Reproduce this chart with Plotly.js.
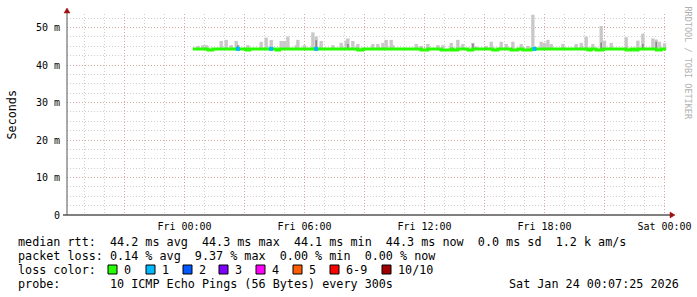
<!DOCTYPE html>
<html><head><meta charset="utf-8">
<script src="https://cdn.plot.ly/plotly-3.0.1.min.js"></script>
<style>html,body{margin:0;padding:0;background:#fff}#chart{width:697px;height:297px}</style>
</head><body><div id="chart"></div>
<script>
// ---- data (Fri = 2026-01-23) ----
const smokeTimes = ['2026-01-23 00:40','2026-01-23 00:55','2026-01-23 01:05','2026-01-23 01:50','2026-01-23 02:05','2026-01-23 02:20','2026-01-23 02:35','2026-01-23 02:40','2026-01-23 03:10','2026-01-23 03:50','2026-01-23 04:05','2026-01-23 04:20','2026-01-23 04:50','2026-01-23 05:00','2026-01-23 05:10','2026-01-23 05:35','2026-01-23 05:40','2026-01-23 06:00','2026-01-23 06:25','2026-01-23 06:35','2026-01-23 06:50','2026-01-23 07:25','2026-01-23 07:50','2026-01-23 08:05','2026-01-23 08:10','2026-01-23 08:25','2026-01-23 08:40','2026-01-23 09:25','2026-01-23 09:40','2026-01-23 09:55','2026-01-23 10:05','2026-01-23 10:20','2026-01-23 10:25','2026-01-23 11:35','2026-01-23 11:50','2026-01-23 12:10','2026-01-23 12:40','2026-01-23 12:55','2026-01-23 13:20','2026-01-23 13:40','2026-01-23 13:55','2026-01-23 14:25','2026-01-23 14:35','2026-01-23 15:05','2026-01-23 15:20','2026-01-23 15:50','2026-01-23 16:05','2026-01-23 16:25','2026-01-23 16:50','2026-01-23 17:10','2026-01-23 17:25','2026-01-23 17:50','2026-01-23 18:00','2026-01-23 18:10','2026-01-23 18:20','2026-01-23 18:55','2026-01-23 19:35','2026-01-23 19:50','2026-01-23 20:05','2026-01-23 20:25','2026-01-23 20:50','2026-01-23 21:00','2026-01-23 21:20','2026-01-23 22:05','2026-01-23 22:40','2026-01-23 22:55','2026-01-23 23:25','2026-01-23 23:35','2026-01-23 23:45','2026-01-24 00:00'];
const smokeTop = [45.1,45.3,45.3,46.4,46.7,45.3,46.4,45.3,45.3,46.2,47.3,46.7,46.4,46.4,47.6,45.3,46.7,45.3,48.7,47.6,46.4,45.3,45.9,46.5,47.1,46.4,45.6,45.6,45.6,45.9,46.7,46.7,45.3,45.6,45.1,45.6,45.3,45.3,45.9,46.7,45.6,45.9,44.9,45.1,46.2,46.2,45.6,46.2,45.6,45.1,53.4,46.2,45.9,46.7,45.6,45.6,45.6,45.9,47.6,45.6,50.4,46.5,45.9,47.4,46.5,48.4,47.1,46.8,46.2,45.8];
const smokeBase = 44.2;
const darkTimes = ['2026-01-23 02:40','2026-01-23 06:35','2026-01-23 08:10','2026-01-23 14:25','2026-01-23 20:50','2026-01-23 22:55','2026-01-23 23:35'];
const darkTop = [45.3,46.6,45.6,45.7,46.0,45.6,46.2];

const medianTimes = ['2026-01-23 00:25','2026-01-23 01:10','2026-01-23 01:25','2026-01-23 03:05','2026-01-23 03:15','2026-01-23 04:35','2026-01-23 04:45','2026-01-23 08:40','2026-01-23 08:55','2026-01-23 11:50','2026-01-23 12:10','2026-01-23 12:50','2026-01-23 13:20','2026-01-23 13:25','2026-01-23 13:40','2026-01-23 14:10','2026-01-23 14:25','2026-01-23 15:25','2026-01-23 15:40','2026-01-23 16:20','2026-01-23 16:40','2026-01-23 16:55','2026-01-23 17:20','2026-01-23 20:10','2026-01-23 20:20','2026-01-23 20:35','2026-01-23 20:55','2026-01-23 22:05','2026-01-23 22:20','2026-01-23 22:30','2026-01-23 22:40','2026-01-23 23:35','2026-01-23 23:50','2026-01-24 00:05'];
const medianVals = [44.3,44.0,44.3,44.0,44.3,44.0,44.3,44.0,44.3,44.0,44.3,44.0,44.3,44.0,44.3,44.0,44.3,44.0,44.3,44.0,44.3,44.0,44.3,44.0,44.3,44.0,44.3,44.0,44.3,44.0,44.3,44.0,44.3,44.3];

const lossTimes = ['2026-01-23 02:40','2026-01-23 04:20','2026-01-23 06:35','2026-01-23 17:30'];
const lossMedian = [44.3,44.3,44.3,44.3];

const xTickVals = ['2026-01-22 21:00','2026-01-23 00:00','2026-01-23 03:00','2026-01-23 06:00','2026-01-23 09:00','2026-01-23 12:00','2026-01-23 15:00','2026-01-23 18:00','2026-01-23 21:00','2026-01-24 00:00'];
const xTickText = ['','Fri 00:00','','Fri 06:00','','Fri 12:00','','Fri 18:00','','Sat 00:00'];
const yTickVals = [0,10,20,30,40,50];
const yTickText = ['0','10 m','20 m','30 m','40 m','50 m'];

const lossLabels = ['0','1','2','3','4','5','6-9','10/10'];
const lossColors = ['#26ff00','#00b8ff','#0059ff','#7e00ff','#ff00ff','#ff5e00','#ff0000','#a10000'];

const legendLines = [
  'median rtt:  44.2 ms avg  44.3 ms max  44.1 ms min  44.3 ms now  0.0 ms sd  1.2 k am/s',
  'packet loss: 0.14 % avg  9.37 % max  0.00 % min  0.00 % now',
  'loss color:',
  'probe:       10 ICMP Echo Pings (56 Bytes) every 300s'
];
const stampText = 'Sat Jan 24 00:07:25 2026';

// ---- layout helpers ----
const L=67,R=667,T=14,B=215;
const px = x => (x-L)/(R-L);
const py = y => (B-y)/(B-T);
const nb = s => s.replace(/ /g,'\u00a0');
const MONO = 'DejaVu Sans Mono';
const FS = 11.75;

const traces = [
  {type:'bar', x:smokeTimes, y:smokeTop.map(v=>v-smokeBase), base:smokeBase, width:600000,
   marker:{color:'#c8c8c8', line:{width:0}}, hoverinfo:'skip', showlegend:false},
  {type:'bar', x:darkTimes, y:darkTop.map(v=>v-smokeBase), base:smokeBase, width:300000,
   marker:{color:'#8a8a8a', line:{width:0}}, hoverinfo:'skip', showlegend:false},
  {type:'scatter', mode:'lines', x:medianTimes, y:medianVals, line:{color:lossColors[0], width:3, shape:'hv'},
   hoverinfo:'skip', showlegend:false},
  {type:'scatter', mode:'markers', x:lossTimes, y:lossMedian,
   marker:{color:lossColors[1], symbol:'square', size:4, line:{width:0}}, hoverinfo:'skip', showlegend:false}
];

const annotations = [];
const shapes = [];
const lineY = [241.5,255.5,269.5,283.5];
legendLines.forEach((s,i)=>{
  annotations.push({xref:'paper',yref:'paper',x:px(16),y:py(lineY[i]),xanchor:'left',yanchor:'middle',
    text:nb(s),showarrow:false,font:{family:MONO,size:FS,color:'#000'}});
});
annotations.push({xref:'paper',yref:'paper',x:px(681),y:py(lineY[3]),xanchor:'right',yanchor:'middle',
  text:nb(stampText),showarrow:false,font:{family:MONO,size:FS,color:'#000'}});
const boxX = [108,146,183,219,256,293,330,382];
lossLabels.forEach((lab,i)=>{
  shapes.push({type:'rect',xref:'paper',yref:'paper',x0:px(boxX[i]),x1:px(boxX[i]+9),y0:py(274),y1:py(265),
    fillcolor:lossColors[i],line:{color:'#000',width:1}});
  annotations.push({xref:'paper',yref:'paper',x:px(boxX[i]+14),y:py(lineY[2]),xanchor:'left',yanchor:'middle',
    text:lab,showarrow:false,font:{family:MONO,size:FS,color:'#000'}});
});
annotations.push({xref:'paper',yref:'paper',x:px(11),y:py(114.5),xanchor:'center',yanchor:'middle',textangle:-90,
  text:'Seconds',showarrow:false,font:{family:MONO,size:FS,color:'#000'}});
annotations.push({xref:'paper',yref:'paper',x:px(688),y:py(4),xanchor:'center',yanchor:'top',textangle:90,
  text:'RRDTOOL / TOBI OETIKER',showarrow:false,font:{family:MONO,size:8.5,color:'#b0b0b0'}});

// axis lines and arrows
shapes.push({type:'line',xref:'paper',yref:'paper',x0:px(63),x1:px(670),y0:0,y1:0,line:{color:'#000',width:1}});
shapes.push({type:'line',xref:'paper',yref:'paper',x0:0,x1:0,y0:0,y1:py(12),line:{color:'#555',width:1}});
shapes.push({type:'path',xref:'paper',yref:'paper',xsizemode:'pixel',ysizemode:'pixel',xanchor:px(670),yanchor:0,
  path:'M 0 -3 L 5 0 L 0 3 Z',fillcolor:'#a01010',line:{color:'#a01010',width:0.5}});
shapes.push({type:'path',xref:'paper',yref:'paper',xsizemode:'pixel',ysizemode:'pixel',xanchor:0,yanchor:py(13),
  path:'M -3 0 L 0 5 L 3 0 Z',fillcolor:'#a01010',line:{color:'#a01010',width:0.5}});

const majorGrid = 'rgba(225,150,150,0.75)';
const minorGrid = 'rgba(175,175,175,0.6)';
const dash = '1px,2px';
const layout = {
  width:697, height:297,
  margin:{l:L,r:697-R,t:T,b:297-B,pad:0},
  paper_bgcolor:'#fff', plot_bgcolor:'#fff',
  barmode:'overlay', showlegend:false,
  font:{family:MONO,size:10,color:'#000'},
  xaxis:{type:'date', range:['2026-01-22 18:07:25','2026-01-24 00:07:25'],
    tickmode:'array', tickvals:xTickVals, ticktext:xTickText, ticks:'', ticklabelstandoff:4,
    showgrid:true, gridcolor:majorGrid, griddash:dash, gridwidth:1,
    minor:{tickmode:'linear', tick0:'2026-01-23 00:00', dtick:3600000, showgrid:true, gridcolor:minorGrid, griddash:dash, gridwidth:1},
    showline:false, zeroline:false, fixedrange:true, tickfont:{family:MONO,size:10,color:'#000'}},
  yaxis:{range:[0,53.6], tickmode:'array', tickvals:yTickVals, ticktext:yTickText, ticks:'', ticklabelstandoff:6,
    showgrid:true, gridcolor:majorGrid, griddash:dash, gridwidth:1,
    minor:{tickmode:'linear', tick0:0, dtick:2.5, showgrid:true, gridcolor:minorGrid, griddash:dash, gridwidth:1},
    showline:false, zeroline:false, fixedrange:true, tickfont:{family:MONO,size:10,color:'#000'}},
  annotations, shapes
};
Plotly.newPlot('chart', traces, layout, {staticPlot:true, displayModeBar:false});
</script></body></html>
